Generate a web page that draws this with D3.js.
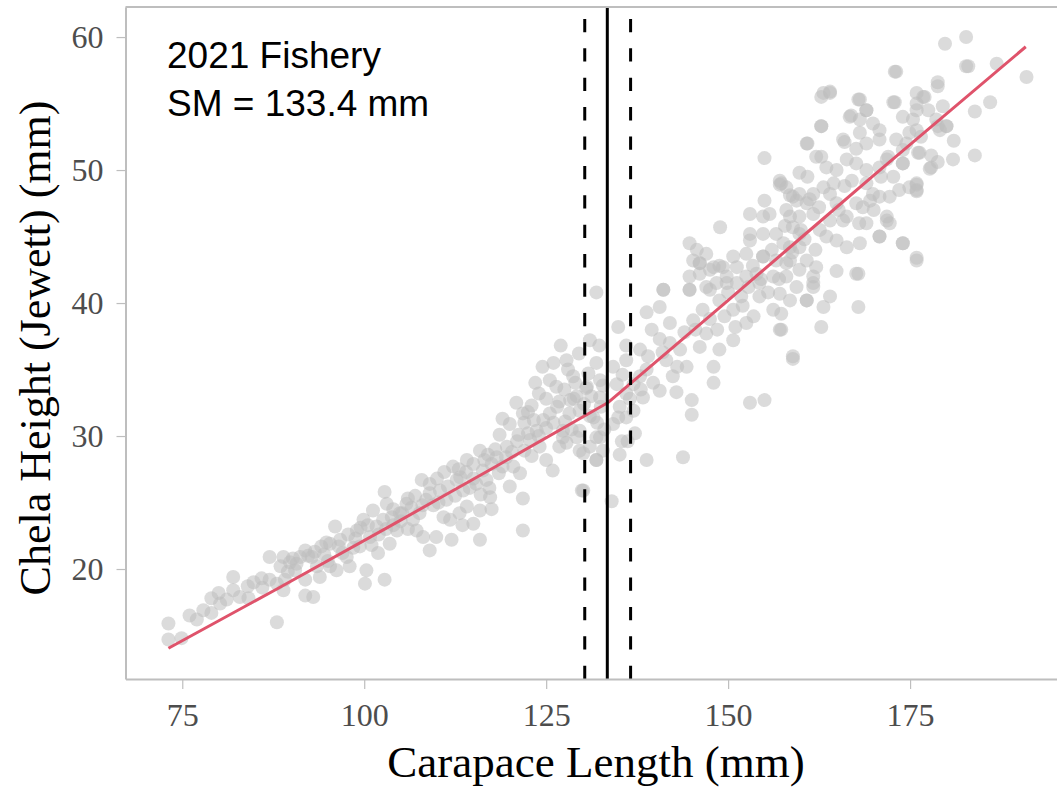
<!DOCTYPE html>
<html>
<head>
<meta charset="utf-8">
<script src="https://cdn.jsdelivr.net/npm/d3@7"></script>
<style>
  body { margin: 0; background: #fff; }
  .chart text { font-family: "Liberation Serif", "Times New Roman", serif; }
</style>
</head>
<body>
<div class="chart"></div>
<script>
// carapace length (mm), chela height (mm)
const crabs = [
  [73.1,15.9],[73.1,14.7],[74.9,14.8],[76.0,16.5],[77.0,16.2],[77.9,16.9],[79.0,16.7],[79.0,17.8],
  [80.0,18.2],[80.2,17.4],[81.1,17.7],[82.0,19.4],[82.0,18.4],[82.9,17.9],[84.1,17.8],[84.8,19.0],
  [85.9,19.3],[87.0,20.9],[88.0,16.0],[87.0,19.2],[88.0,18.9],[88.9,20.9],[89.1,19.2],[88.9,18.4],
  [89.8,20.5],[90.7,20.4],[91.9,21.4],[91.9,19.2],[91.9,18.0],[93.0,17.9],[92.8,20.9],[93.5,20.2],
  [94.1,21.7],[93.9,19.4],[95.3,20.2],[96.2,19.9],[96.0,23.2],[95.3,21.9],[96.7,22.2],[97.6,20.9],
  [98.0,20.2],[99.0,22.9],[99.9,23.7],[100.3,19.9],[100.1,18.9],[99.4,21.7],[100.8,22.4],[101.2,24.4],
  [101.7,23.2],[102.6,23.7],[102.8,25.8],[103.1,24.9],[102.8,19.2],[101.9,21.2],[103.5,21.9],[104.5,22.9],
  [104.9,24.2],[105.8,24.9],[106.7,23.7],[107.2,22.9],[107.6,24.2],[107.9,26.7],[109.0,26.4],[108.1,22.4],
  [109.0,21.4],[109.9,22.4],[110.4,25.9],[111.3,25.2],[111.8,23.7],[112.0,22.2],[110.9,23.9],[112.2,27.7],
  [112.7,26.7],[113.6,25.9],[114.1,24.7],[113.1,24.2],[114.1,28.2],[115.0,27.9],[115.9,28.9],[116.3,27.4],
  [115.4,26.4],[115.0,23.4],[115.9,22.2],[115.9,24.4],[117.3,25.4],[116.8,26.7],[118.2,28.4],[118.6,30.1],
  [119.6,29.2],[120.0,30.9],[120.9,32.5],[121.8,31.7],[120.0,26.2],[121.8,25.3],[121.8,22.9],[120.5,27.7],
  [121.4,27.2],[122.8,29.7],[123.7,30.4],[124.6,31.2],[125.0,32.8],[125.5,31.7],[126.4,33.7],[125.0,28.2],
  [125.9,27.4],[124.1,29.2],[126.8,29.2],[127.3,30.4],[128.2,31.7],[129.2,33.0],[129.6,30.4],[130.1,28.7],
  [129.9,25.9],[131.9,28.2],[132.8,28.9],[131.9,29.9],[131.0,31.5],
  [122.0,31.0],[123.0,32.3],[124.0,33.2],[125.5,34.2],[126.5,32.2],[127.5,33.5],[128.0,35.0],[126.0,35.5],
  [124.5,35.2],[123.5,34.0],[122.5,30.2],[121.0,29.6],[119.5,28.4],[118.5,27.2],[117.5,27.9],[117.0,28.6],
  [119.0,31.3],[123.0,28.5],[127.8,29.5],[128.8,32.8],[130.5,33.6],[130.8,34.7],[132.5,32.2],[132.3,36.8],
  [131.0,37.2],[129.5,36.2],[127.0,36.8],
  [104.0,23.3],[105.0,23.6],[106.0,25.3],[108.5,25.2],[109.5,24.8],[110.0,26.8],[111.0,27.3],[106.5,24.6],
  [103.8,23.9],[98.5,21.6],[97.0,21.2],[95.0,20.6],[94.5,21.1],[90.5,19.9],[86.0,18.6],[84.0,18.7],
  [113.0,27.5],[114.5,26.1],[116.0,25.6],[117.5,24.5],[113.5,23.3],
  [88.5,20.2],[89.5,19.8],[90.2,20.8],[91.2,20.9],[92.3,21.0],[93.2,21.3],[94.8,22.0],[96.5,21.7],
  [97.8,22.6],[98.8,22.3],[99.5,23.1],[100.5,23.3],[101.0,21.8],[102.0,22.6],
  [103.0,23.0],[104.0,24.5],[105.2,24.2],[106.0,23.0],[107.0,25.5],[108.0,24.8],[109.0,25.7],[110.2,25.0],
  [111.5,26.2],[112.5,25.5],[113.2,26.9],[114.0,27.3],[115.0,26.8],[116.5,28.2],[117.2,26.1],[118.0,29.0],
  [119.0,27.7],[120.3,28.8],[121.2,30.1],[122.0,28.9],[122.5,31.8],[123.3,31.2],[124.0,30.0],[125.0,30.6],
  [126.0,31.0],[126.8,32.6],[127.6,31.1],[128.5,30.5],[129.0,34.0],[130.2,32.4],[131.2,33.0],[132.0,31.0],
  [132.8,33.8],[133.0,30.5],
  [131.9,40.8],[134.0,25.1],[134.9,38.2],[136.0,36.8],[136.0,35.7],[135.4,29.6],[135.1,28.6],[137.2,30.2],
  [138.8,28.2],[143.8,28.4],[145.0,32.7],[145.0,31.6],[153.0,32.5],[155.0,32.7],[158.9,35.8],[142.9,33.3],
  [148.0,34.0],[148.0,35.2],[138.8,39.3],[141.1,41.0],[140.6,39.7],[142.0,38.5],[144.7,42.0],[146.1,43.0],
  [144.7,41.0],[145.2,38.7],[147.5,42.5],[148.8,42.8],[149.8,41.5],[150.7,43.5],[151.8,40.5],[152.5,42.0],
  [153.4,42.8],[154.3,40.5],[154.8,43.5],[156.2,39.5],[157.1,38.0],[137.9,36.5],[138.8,35.0],[139.7,34.0],
  [140.6,37.3],[141.5,35.7],[142.4,34.5],[143.4,36.5],[144.3,35.2],[146.1,36.7],[147.0,37.7],[148.8,36.5],
  [150.7,37.2],[140.6,33.4],[138.3,32.9],[137.0,31.9],[136.0,31.4],[127.8,35.7],[128.7,34.5],[130.6,33.7],
  [131.9,35.5],[132.4,34.2],[128.3,32.7],[129.6,31.9],[131.5,31.4],[132.4,32.9],[127.3,29.9],[129.2,29.9],
  [131.0,29.2],[132.4,29.9],[131.9,28.2],[129.6,28.9],[134.2,35.2],[134.7,33.9],[135.1,32.2],[136.0,33.2],
  [137.0,33.9],[137.9,34.5],[134.2,30.9],[134.9,31.4],[130.1,25.9],[136.2,29.6],
  [135.5,34.6],[136.5,32.8],[138.0,33.5],[139.0,36.0],[139.5,38.0],[141.0,36.3],[142.0,37.0],[143.0,35.2],
  [144.0,37.8],[145.5,38.0],[146.5,39.5],[147.5,38.8],[148.5,38.0],[149.5,39.0],[150.0,40.8],[151.0,38.2],
  [152.0,39.8],[152.8,41.2],[153.5,39.0],[154.5,41.8],[155.5,40.8],[156.0,44.0],[157.0,41.8],[157.8,45.8],
  [158.8,43.8],[160.0,45.5],[160.5,44.8],[161.2,47.8],[162.0,44.0],[162.5,47.2],[163.5,45.0],[164.5,49.0],
  [165.2,47.0],[166.0,48.8],[167.0,49.2],[168.0,46.0],[169.0,49.0],[170.0,47.0],[171.0,49.5],[172.0,51.0],
  [173.5,48.5],[174.5,52.0],[176.5,52.5],[177.5,54.5],[179.5,54.8],[181.0,52.2],
  [145.2,43.2],[146.1,42.2],[147.0,41.2],[148.8,40.2],[150.7,39.5],[152.5,38.5],[154.3,41.5],[156.2,42.0],
  [158.0,43.0],[159.8,42.5],[160.8,40.2],[161.7,41.5],
  [172.9,57.4],[183.0,57.8],[186.9,58.0],[191.0,57.0],[162.8,55.5],[164.0,55.8],[167.9,55.3],[169.0,54.5],
  [172.9,55.1],[175.9,55.8],[176.8,55.5],[178.8,56.6],[178.8,56.3],[162.8,53.3],[166.9,54.1],[168.1,53.8],
  [169.9,53.5],[170.8,53.0],[174.0,54.0],[175.4,53.8],[175.9,55.0],[175.9,53.0],[183.9,54.4],[186.0,55.1],
  [178.6,53.8],[180.0,53.3],[179.1,53.0],[183.9,51.1],[180.9,50.8],[178.8,50.6],[177.9,50.2],
  [160.9,52.0],[162.8,51.0],[166.0,52.1],[168.1,52.8],[167.6,51.6],[169.0,52.0],[170.8,52.3],[173.1,52.3],
  [174.0,51.5],[174.9,52.8],[176.3,51.3],[159.8,49.8],[160.9,49.5],[163.5,50.2],[164.9,50.0],[166.3,50.8],
  [167.6,50.5],[169.0,50.0],[170.8,50.2],[172.7,49.5],[174.0,50.5],[171.8,50.8],
  [174.9,48.7],[175.9,48.5],[175.9,49.0],[172.2,48.0],[170.8,48.0],[169.9,48.2],[168.5,47.2],[169.5,47.7],
  [167.6,47.5],[166.3,46.5],[165.8,46.2],[164.9,47.5],[164.0,48.2],[163.1,48.7],[161.7,48.2],[159.8,48.2],
  [158.9,48.0],[158.0,48.7],[157.3,49.0],
  [171.8,46.5],[172.2,46.0],[171.8,46.2],[170.8,45.0],[169.0,46.0],[168.1,44.5],[174.0,44.5],[175.9,43.2],
  [167.9,42.2],[167.9,39.7],[164.9,42.4],[164.0,40.5],[163.1,39.7],[162.8,38.2],[160.8,40.2],[161.7,41.2],
  [158.9,36.0],[157.3,38.0],[157.3,39.2],
  [158.0,47.0],[158.9,45.7],[159.8,46.5],[160.8,47.5],[161.7,46.7],[162.6,45.5],[164.0,46.2],[164.9,44.7],
  [166.3,44.2],[159.8,44.2],[158.5,43.2],[160.8,43.2],[162.1,42.7],[158.0,42.0],[159.4,41.2],[161.7,42.0],
  [157.1,40.7],[158.5,40.2],
  [155.0,50.9],[157.1,49.2],[157.1,48.9],[158.5,48.1],[159.4,47.7],[155.0,47.7],[154.8,46.5],[153.0,46.7],
  [154.8,45.2],[154.8,43.5],[153.0,45.2],[152.5,43.7],[151.2,42.7],[149.3,42.7],[148.0,42.7],[148.9,45.7],
  [147.0,43.7],[145.7,44.0],[146.1,43.0],[144.7,44.5],[144.7,41.0],[141.1,41.0],
  [155.7,46.7],[156.6,45.2],[157.6,44.5],[158.5,46.5],[159.8,45.2],[158.5,44.2],[156.6,43.2],[153.0,44.7],
  [153.9,42.2],[151.2,41.5],[149.8,42.0],[148.4,41.5],[147.5,41.0],
  [179.8,59.5],[182.7,60.0],[182.7,57.8],[177.7,50.1],[177.9,51.1],[176.1,51.3],[178.8,53.3],[180.0,53.3],
  [177.0,55.5],[172.7,55.1],[173.1,57.4],[175.9,54.5],[174.0,50.5],[175.9,48.9],[175.9,48.4],[174.0,44.5],
  [175.9,43.4],[170.8,45.0],[167.6,42.2],[168.1,55.3],[166.7,54.0],[169.0,54.5],[165.8,52.3],[163.1,55.8],
  [164.0,55.9],[162.8,53.3],[160.8,52.0],[162.1,51.0]
];

// fitted broken-stick relationship
const fitLowX = [73.1, 88, 103.3, 118.2, 133.45];
const fitLowY = [14.04, 18.5, 23.15, 27.75, 32.5];
const fitHighX = [133.45, 150, 170, 190.9];
const fitHighY = [32.5, 40.2, 49.6, 59.27];

// size at maturity and its interval
const sm = 133.4;
const smInterval = [130.3, 136.6];

const xTicks = [75, 100, 125, 150, 175];
const yTicks = [20, 30, 40, 50, 60];
const labelLines = ["2021 Fishery", "SM = " + sm.toFixed(1) + " mm"];

const width = 1057, height = 788;
const panel = {left: 125.5, right: 1060, top: 7, bottom: 679};

const svg = d3.select(".chart").append("svg")
    .attr("width", width)
    .attr("height", height);

const x = d3.scaleLinear().domain([67.2, 195.6]).range([panel.left, panel.right]);
const y = d3.scaleLinear().domain([11.73, 62.26]).range([panel.bottom, panel.top]);

svg.append("defs").append("clipPath").attr("id", "clip")
  .append("rect")
    .attr("x", panel.left).attr("y", panel.top)
    .attr("width", panel.right - panel.left).attr("height", panel.bottom - panel.top);

const plot = svg.append("g").attr("clip-path", "url(#clip)");

plot.selectAll("circle")
    .data(crabs)
    .enter().append("circle")
    .attr("cx", d => x(d[0]))
    .attr("cy", d => y(d[1]))
    .attr("r", 7)
    .attr("fill", "#bebebe")
    .attr("fill-opacity", 0.55);

const line = d3.line()
    .x(d => x(d[0]))
    .y(d => y(d[1]));

[[fitLowX, fitLowY], [fitHighX, fitHighY]].forEach(function(seg) {
    plot.append("path")
        .datum(seg[0].map((v, i) => [v, seg[1][i]]))
        .attr("fill", "none")
        .attr("stroke", "#DF536B")
        .attr("stroke-width", 3)
        .attr("d", d3.line().curve(d3.curveMonotoneX).x(d => x(d[0])).y(d => y(d[1])));
});

// vertical reference lines, drawn bottom-up like the original
const yDom = y.domain();
plot.append("path")
    .attr("d", line([[sm, yDom[0]], [sm, yDom[1]]]))
    .attr("stroke", "#000")
    .attr("stroke-width", 3);

smInterval.forEach(function(v) {
    plot.append("path")
        .attr("d", line([[v, yDom[0]], [v, yDom[1]]]))
        .attr("stroke", "#000")
        .attr("stroke-width", 3)
        .attr("stroke-dasharray", "13.3,16.1");
});

// panel border: top line plus axes
svg.append("line")
    .attr("x1", panel.left).attr("x2", width)
    .attr("y1", panel.top).attr("y2", panel.top)
    .attr("stroke", "#bebebe").attr("stroke-width", 2);

const xAxis = svg.append("g")
    .attr("transform", "translate(0," + panel.bottom + ")")
    .call(d3.axisBottom(x).tickValues(xTicks).tickSize(10).tickPadding(14).tickSizeOuter(0));

const yAxis = svg.append("g")
    .attr("transform", "translate(" + panel.left + ",0)")
    .call(d3.axisLeft(y).tickValues(yTicks).tickSize(9).tickPadding(13).tickSizeOuter(0));

[xAxis, yAxis].forEach(function(ax) {
    ax.select(".domain").attr("stroke", "#bebebe").attr("stroke-width", 2);
    ax.selectAll(".tick line").attr("stroke", "#bebebe").attr("stroke-width", 1.2);
    ax.selectAll(".tick text")
        .attr("fill", "#4d4d4d")
        .style("font-family", "'Liberation Serif', 'Times New Roman', serif")
        .style("font-size", "32px");
});

svg.append("text")
    .attr("x", 596)
    .attr("y", 777)
    .attr("text-anchor", "middle")
    .style("font-size", "45px")
    .attr("fill", "#000")
    .text("Carapace Length (mm)");

svg.append("text")
    .attr("transform", "translate(50,348) rotate(-90)")
    .attr("text-anchor", "middle")
    .style("font-size", "44px")
    .attr("fill", "#000")
    .text("Chela Height (Jewett) (mm)");

svg.append("g").selectAll("text")
    .data(labelLines)
    .enter().append("text")
    .attr("x", 167)
    .attr("y", (d, i) => 68 + i * 48)
    .style("font-family", "'Liberation Sans', Arial, sans-serif")
    .style("font-size", "37px")
    .attr("fill", "#000")
    .text(d => d);
</script>
</body>
</html>
